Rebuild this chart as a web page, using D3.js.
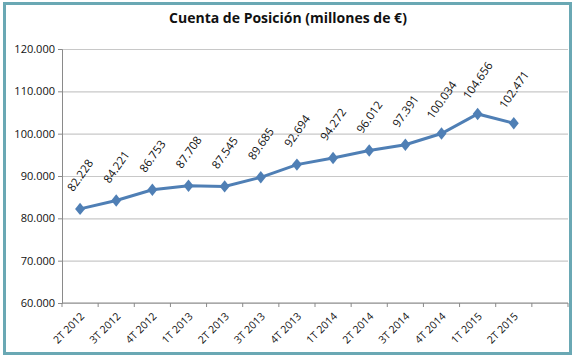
<!DOCTYPE html>
<html>
<head>
<meta charset="utf-8">
<script src="https://cdn.jsdelivr.net/npm/d3@7"></script>
<style>
  body { margin: 0; background: #fff; }
  text { font-family: "Open Sans", "Liberation Sans", sans-serif; }
</style>
</head>
<body>
<div id="chart"></div>
<script>
const width = 576;
const height = 362;

// data
const quarters = ['2T 2012', '3T 2012', '4T 2012', '1T 2013', '2T 2013', '3T 2013', '4T 2013',
    '1T 2014', '2T 2014', '3T 2014', '4T 2014', '1T 2015', '2T 2015', ''];
const values = [82.228, 84.221, 86.753, 87.708, 87.545, 89.685, 92.694,
    94.272, 96.012, 97.391, 100.034, 104.656, 102.471];
const yTicks = [60, 70, 80, 90, 100, 110, 120];

const fmt = d3.format('.3f');

const svg = d3.select('#chart')
    .append('svg')
    .attr('width', width)
    .attr('height', height);

// outer frame
svg.append('rect')
    .attr('x', 4.5).attr('y', 3.5)
    .attr('width', 566).attr('height', 350)
    .attr('fill', '#fff')
    .attr('stroke', '#6aa8b4')
    .attr('stroke-width', 3);

svg.append('text')
    .attr('x', 288).attr('y', 23)
    .attr('text-anchor', 'middle')
    .attr('font-size', 14)
    .attr('font-weight', 'bold')
    .attr('fill', '#111')
    .text('Cuenta de Posición (millones de €)');

const area = { left: 62, right: 568, top: 49, bottom: 303 };

const xScale = d3.scaleBand()
    .domain(quarters.map((d, i) => i))
    .range([area.left, area.right]);

const yScale = d3.scaleLinear()
    .domain([60, 120])
    .range([area.bottom, area.top]);

// gridlines
svg.append('g')
    .attr('transform', `translate(${area.left},0)`)
    .call(d3.axisLeft(yScale).tickValues(yTicks).tickFormat('').tickSize(-(area.right - area.left)))
    .call(g => g.select('.domain').remove())
    .call(g => g.selectAll('line').attr('stroke', '#c8c8c8').attr('stroke-width', 1.2));

// y axis
svg.append('g')
    .attr('transform', `translate(${area.left},0)`)
    .call(d3.axisLeft(yScale).tickValues(yTicks).tickSize(4).tickPadding(3)
        .tickFormat(d => fmt(d)))
    .call(g => g.select('.domain').attr('stroke', '#8a8a8a'))
    .call(g => g.selectAll('line').attr('stroke', '#8a8a8a'))
    .call(g => g.selectAll('text').attr('font-size', 11).attr('fill', '#111')
        .attr('font-family', '"Open Sans", "Liberation Sans", sans-serif'));

// x axis with ticks between categories
const xAxisG = svg.append('g')
    .attr('transform', `translate(0,${area.bottom})`);

xAxisG.append('line')
    .attr('x1', area.left).attr('x2', area.right)
    .attr('stroke', '#8a8a8a');

xAxisG.selectAll('line.tick')
    .data(quarters.map((d, i) => i).concat([quarters.length]))
    .join('line')
    .attr('class', 'tick')
    .attr('x1', i => i < quarters.length ? xScale(i) : area.right)
    .attr('x2', i => i < quarters.length ? xScale(i) : area.right)
    .attr('y1', 0).attr('y2', 4)
    .attr('stroke', '#8a8a8a');

xAxisG.selectAll('text')
    .data(quarters.filter(d => d))
    .join('text')
    .attr('font-size', 10.5)
    .attr('fill', '#111')
    .attr('text-anchor', 'end')
    .attr('transform', (d, i) => `translate(${xScale(i) + xScale.bandwidth() / 2 + 5},${14}) rotate(-45)`)
    .text(d => d);

// line
const cx = (d, i) => xScale(i) + xScale.bandwidth() / 2;

const line = d3.line()
    .x(cx)
    .y(d => yScale(d));

svg.append('path')
    .datum(values)
    .attr('fill', 'none')
    .attr('stroke', '#4f7fb5')
    .attr('stroke-width', 3)
    .attr('d', line);

svg.append('g')
    .selectAll('path')
    .data(values)
    .join('path')
    .attr('d', d3.symbol(d3.symbolDiamond, 55))
    .attr('transform', (d, i) => `translate(${cx(d, i)},${yScale(d)}) scale(1.25,0.9)`)
    .attr('fill', '#4f7fb5');

// data labels
svg.append('g')
    .selectAll('text')
    .data(values)
    .join('text')
    .attr('font-size', 11.5)
    .attr('fill', '#111')
    .attr('text-anchor', 'middle')
    .attr('dominant-baseline', 'middle')
    .attr('transform', (d, i) => `translate(${cx(d, i) + 1},${yScale(d) - 33}) rotate(-55)`)
    .text(d => fmt(d));
</script>
</body>
</html>
